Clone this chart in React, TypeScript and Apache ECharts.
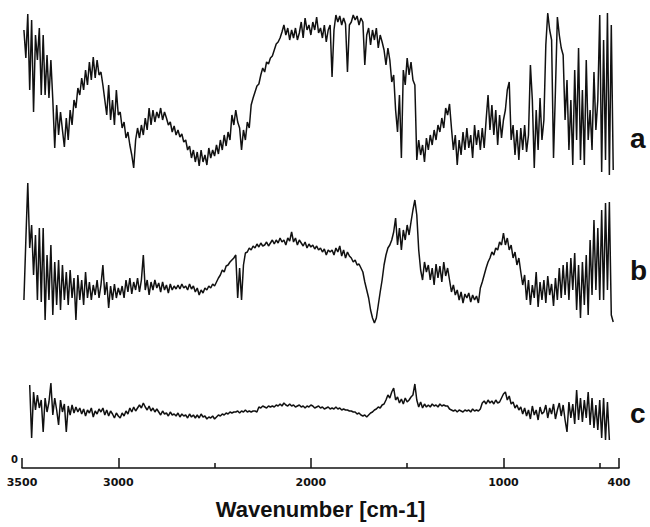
import React, { useEffect, useRef } from "react";
import * as echarts from "echarts";

// Wavenumber grid (cm-1): each trace sampled every 10 cm-1 from its start wavenumber
const WN_STEP = 10;
const A_START = 3490;
const B_START = 3490;
const C_START = 3460;

// Trace a (arbitrary intensity units, offset stack)
const A_VALUES = [
  438, 410, 454, 378, 448, 356, 433, 408, 440, 373,
  433, 373, 413, 370, 408, 368, 320, 363, 333, 356,
  338, 321, 350, 328, 358, 343, 368, 360, 380, 373,
  390, 378, 398, 383, 406, 388, 411, 390, 408, 393,
  396, 383, 368, 353, 383, 348, 368, 343, 378, 353,
  356, 340, 346, 330, 336, 323, 313, 300, 328, 340,
  330, 343, 333, 350, 338, 360, 343, 358, 346, 356,
  350, 360, 348, 356, 350, 343, 346, 336, 342, 333,
  338, 331, 334, 326, 328, 318, 322, 310, 318, 306,
  316, 302, 318, 306, 313, 303, 320, 310, 318, 312,
  323, 314, 328, 318, 333, 322, 336, 328, 353, 343,
  358, 346, 340, 318, 338, 328, 346, 340, 363, 370,
  376, 382, 384, 393, 400, 396, 406, 404, 410, 412,
  418, 424, 426, 430, 436, 443, 433, 440, 428, 438,
  430, 440, 428, 435, 446, 430, 450, 438, 443, 433,
  446, 438, 451, 435, 440, 430, 443, 426, 438, 443,
  391, 438, 453, 446, 452, 443, 450, 444, 396, 443,
  446, 453, 448, 452, 443, 450, 446, 403, 433, 440,
  423, 438, 428, 440, 420, 433, 426, 418, 403, 420,
  408, 386, 393, 358, 336, 373, 310, 398, 383, 410,
  393, 406, 388, 383, 308, 328, 313, 323, 306, 330,
  318, 333, 323, 338, 328, 343, 336, 350, 340, 360,
  353, 364, 340, 318, 333, 303, 328, 313, 336, 318,
  340, 320, 333, 310, 343, 323, 338, 318, 340, 320,
  348, 373, 338, 363, 333, 358, 323, 353, 330, 348,
  358, 378, 386, 328, 343, 313, 338, 308, 340, 318,
  343, 316, 333, 403, 368, 300, 358, 318, 370, 328,
  348, 423, 455, 438, 428, 310, 378, 451, 433, 420,
  413, 348, 388, 318, 368, 303, 398, 328, 420, 308,
  378, 303, 408, 328, 358, 318, 396, 338, 368, 453,
  296, 428, 308, 455, 293, 443, 298,
];

// Trace b
const B_VALUES = [
  168, 228, 285, 220, 243, 193, 233, 168, 240, 166,
  240, 148, 213, 168, 223, 153, 206, 163, 208, 158,
  203, 168, 196, 163, 198, 170, 190, 148, 193, 168,
  188, 163, 196, 170, 186, 168, 183, 173, 188, 170,
  183, 203, 173, 186, 160, 182, 168, 184, 170, 180,
  173, 182, 170, 188, 176, 190, 174, 186, 178, 190,
  176, 188, 213, 178, 188, 173, 186, 178, 188, 180,
  185, 176, 186, 178, 183, 175, 184, 178, 182, 179,
  183, 179, 184, 180, 182, 178, 184, 179, 182, 176,
  180, 173, 178, 175, 180, 178, 182, 180, 184, 182,
  186, 190, 193, 198, 196, 202, 203, 206, 208, 210,
  213, 170, 200, 168, 203, 215, 216, 220, 218, 222,
  220, 224, 221, 225, 222, 223, 226, 222, 225, 228,
  224, 228, 225, 230, 226, 228, 223, 230, 227, 236,
  226, 230, 223, 228, 225, 222, 226, 220, 224, 221,
  223, 219, 222, 218, 220, 216, 219, 213, 218, 216,
  218, 213, 220, 216, 222, 212, 218, 210, 216, 212,
  210, 206, 208, 203, 204, 200, 196, 186, 178, 170,
  158, 150, 145, 150, 163, 176, 188, 203, 213, 220,
  223, 228, 236, 250, 223, 240, 218, 238, 228, 243,
  233, 246, 258, 268, 253, 218, 198, 188, 206, 196,
  203, 188, 200, 183, 204, 190, 202, 186, 206, 192,
  200, 188, 176, 183, 173, 178, 168, 176, 165, 174,
  170, 175, 166, 173, 168, 172, 165, 180, 186, 193,
  200, 206, 210, 216, 213, 220, 218, 226, 223, 235,
  223, 230, 218, 223, 210, 216, 203, 210, 196, 183,
  193, 168, 188, 163, 183, 170, 196, 161, 186, 168,
  188, 165, 192, 173, 184, 162, 190, 168, 200, 170,
  203, 173, 206, 168, 210, 178, 215, 158, 203, 150,
  206, 163, 213, 153, 228, 173, 248, 178, 240, 168,
  258, 168, 265, 178, 266, 153, 146,
];

// Trace c
const C_VALUES = [
  83, 30, 76, 58, 73, 60, 68,
  36, 70, 56, 66, 85, 53, 70, 58, 43, 68,
  56, 64, 36, 62, 53, 63, 55, 61, 56, 60,
  54, 59, 52, 58, 55, 60, 51, 57, 54, 59,
  56, 60, 53, 58, 52, 57, 54, 50, 55, 52,
  50, 55, 52, 57, 54, 60, 56, 61, 57, 60,
  63, 60, 65, 61, 58, 62, 57, 60, 56, 59,
  56, 53, 57, 54, 55, 52, 56, 53, 54, 52,
  55, 51, 54, 52, 53, 50, 54, 51, 53, 50,
  53, 50, 54, 51, 52, 49, 51, 50, 52, 49,
  51, 53, 52, 54, 53, 55, 54, 56, 55, 56,
  56, 57, 55, 57, 56, 58, 56, 57, 56, 57,
  57, 56, 61, 60, 62, 61, 60, 62, 61, 62,
  61, 63, 62, 64, 62, 65, 63, 62, 64, 62,
  63, 61, 62, 63, 61, 62, 60, 62, 61, 63,
  62, 60, 61, 62, 60, 61, 59, 60, 61, 59,
  60, 59, 61, 59, 60, 58, 59, 58, 58, 57,
  57, 56, 56, 54, 55, 53, 52, 53, 51, 53,
  55, 56, 58, 59, 61, 60, 63, 64, 68, 73,
  70, 76, 80, 68, 71, 65, 69, 64, 70, 66,
  68, 71, 73, 84, 68, 61, 66, 60, 64, 61,
  63, 61, 64, 62, 63, 61, 64, 62, 63, 62,
  62, 59, 58, 57, 58, 56, 58, 57, 56, 58,
  57, 58, 56, 59, 57, 58, 57, 59, 65, 67,
  64, 68, 65, 67, 64, 68, 65, 66, 70, 74,
  76, 68, 72, 64, 66, 60, 63, 58, 61, 54,
  60, 52, 58, 49, 62, 53, 58, 48, 61, 54,
  56, 63, 50, 60, 54, 64, 49, 58, 65, 52,
  63, 48, 36, 66, 50, 64, 44, 78, 48, 70,
  46, 68, 50, 76, 43, 70, 40, 63, 38, 68,
  30, 70, 28, 66, 28,
];

const MAJOR_TICKS = [3500, 3000, 2000, 1000, 400];
const MINOR_TICKS = [2500, 1500, 500];
const TRACE_LABELS = ["a", "b", "c"];

const toPairs = (start: number, vals: number[]) =>
  vals.map((v, i) => [start - i * WN_STEP, v]);

export default function App() {
  const ref = useRef<HTMLDivElement>(null);
  useEffect(() => {
    if (!ref.current) return;
    const chart = echarts.init(ref.current, null, { renderer: "svg" });
    const lineStyle = { color: "#111", width: 1.5 };
    const labelTops = [140, 272, 415];
    chart.setOption({
      animation: false,
      backgroundColor: "#fff",
      grid: { left: 22, right: 31, top: 8, bottom: 59 },
      xAxis: {
        type: "value",
        min: 400,
        max: 3500,
        inverse: true,
        position: "bottom",
        axisLine: { show: true, lineStyle: { color: "#111", width: 1.5 } },
        axisTick: {
          show: true,
          inside: true,
          length: 10,
          customValues: MAJOR_TICKS,
          lineStyle: { color: "#111", width: 1.5 },
        },
        axisLabel: {
          customValues: MAJOR_TICKS,
          formatter: (v: number) => String(v),
          color: "#111",
          fontSize: 11,
          fontWeight: "bold",
          fontFamily: "DejaVu Sans",
          margin: 9,
        },
        splitLine: { show: false },
        name: "Wavenumber [cm-1]",
        nameLocation: "middle",
        nameGap: 30,
        nameTextStyle: {
          color: "#111",
          fontSize: 22,
          fontWeight: "bold",
          fontFamily: "Liberation Sans",
        },
      },
      yAxis: { type: "value", min: 0, max: 460, show: false },
      series: [
        {
          type: "line",
          data: toPairs(A_START, A_VALUES),
          showSymbol: false,
          lineStyle,
          silent: true,
          markLine: {
            silent: true,
            symbol: "none",
            label: { show: false },
            lineStyle: { color: "#111", width: 1.5, type: "solid" },
            data: MINOR_TICKS.map((t) => [{ coord: [t, 0] }, { coord: [t, 5] }]),
          },
        },
        { type: "line", data: toPairs(B_START, B_VALUES), showSymbol: false, lineStyle, silent: true },
        { type: "line", data: toPairs(C_START, C_VALUES), showSymbol: false, lineStyle, silent: true },
      ],
      graphic: [
        ...TRACE_LABELS.map((t, i) => ({
          type: "text",
          left: 630,
          top: labelTops[i] - 16,
          style: {
            text: t,
            fill: "#111",
            font: "bold 28px 'Liberation Sans', Arial, sans-serif",
          },
        })),
        {
          type: "text",
          left: 11,
          top: 454,
          style: { text: "0", fill: "#111", font: "bold 10px 'DejaVu Sans', sans-serif" },
        },
      ],
    });
    return () => chart.dispose();
  }, []);
  return (
    <div
      ref={ref}
      style={{ position: "fixed", left: 0, top: 0, width: 650, height: 527 }}
    />
  );
}
